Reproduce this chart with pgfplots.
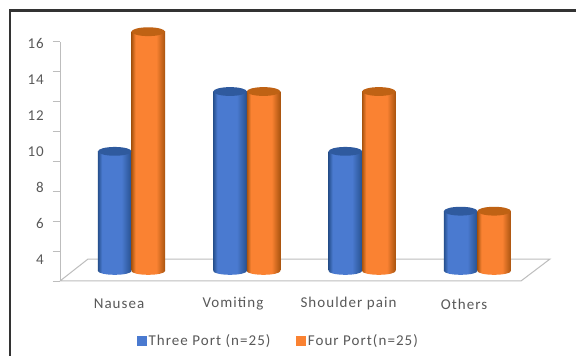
\documentclass[border=0pt]{standalone}
\usepackage{fontspec}
\usepackage{pgfplots}
\pgfplotsset{compat=1.18}
\setmainfont{Carlito}[LetterSpace=7]
\definecolor{blueMid}{HTML}{4A7AD0}
\definecolor{blueEdge}{HTML}{27518F}
\definecolor{blueLid}{HTML}{2F5A9E}
\definecolor{orangeMid}{HTML}{FA8232}
\definecolor{orangeEdge}{HTML}{A9540F}
\definecolor{orangeLid}{HTML}{BF6214}
\definecolor{txt}{HTML}{595959}
\definecolor{rule}{HTML}{BDBDBD}
\pgfdeclarehorizontalshading{cylblue}{100bp}{color(0bp)=(blueEdge); color(25bp)=(blueEdge); color(31bp)=(blueMid); color(60bp)=(blueMid); color(75bp)=(blueEdge); color(100bp)=(blueEdge)}
\pgfdeclarehorizontalshading{cylorange}{100bp}{color(0bp)=(orangeEdge); color(25bp)=(orangeEdge); color(31bp)=(orangeMid); color(62bp)=(orangeMid); color(75bp)=(orangeEdge); color(100bp)=(orangeEdge)}
% caps and rounded bases of a 33.5pt wide column
\pgfdeclareplotmark{lidblue}{\path[fill=blueLid,draw=none] (0pt,0pt) ellipse (16.75pt and 4.4pt);}
\pgfdeclareplotmark{lidorange}{\path[fill=orangeLid,draw=none] (0pt,0pt) ellipse (16.75pt and 4.4pt);}
\pgfdeclareplotmark{baseblue}{\path[shading=cylblue,draw=none] (0pt,0pt) ellipse (16.75pt and 3.8pt);}
\pgfdeclareplotmark{baseorange}{\path[shading=cylorange,draw=none] (0pt,0pt) ellipse (16.75pt and 3.8pt);}
% one cylinder: colour name, position, value
\newcommand{\cylinder}[3]{%
  \addplot[forget plot,only marks,mark=base#1] coordinates {(#2,0)};
  \addplot[forget plot,ybar,bar shift=0pt,bar width=33.5pt,draw=none,shading=cyl#1] coordinates {(#2,#3)};
  \addplot[forget plot,only marks,mark=lid#1] coordinates {(#2,#3)};
}
\begin{document}
\begin{tikzpicture}[x=1pt,y=1pt]
\useasboundingbox (0,0) rectangle (576,356);
\fill[white] (0,0) rectangle (576,356);
\draw[color=black!80,line width=2.4pt] (10.2,-3) -- (10.2,345.5) -- (580,345.5);
% floor, value ticks and category names
\begin{axis}[
  at={(60pt,75pt)},anchor=south west,scale only axis,width=490pt,height=239.3pt,
  xmin=-0.6201,xmax=3.6297,ymin=0,ymax=16,clip=false,
  axis x line*=bottom,axis y line*=left,
  x axis line style={draw=none},y axis line style={draw=rule,line width=0.8pt,-},
  ytick={0,2,...,16},yticklabels={},
  ytick style={draw=rule,line width=0.8pt},
  tick align=outside,major tick length=7pt,
  xtick={-0.108,0.880,1.882,2.884},
  xticklabels={Nausea,Vomiting,Shoulder pain,Others},
  x tick style={draw=none},
  xticklabel style={anchor=center,yshift=-16pt,text=txt,font=\fontsize{15}{15}\selectfont},
]
\addplot[draw=rule,line width=1pt,fill=white] coordinates {(-0.6201,0) (3.378,0) (3.6297,1.47) (-0.377,1.47) (-0.6201,0)};
\end{axis}
% value labels
\begin{axis}[
  at={(60pt,96.5pt)},anchor=south west,scale only axis,width=490pt,height=216pt,
  xmin=0,xmax=1,ymin=4,ymax=16,
  axis x line=none,axis y line*=left,y axis line style={draw=none},
  ytick={4,6,...,16},major tick length=0pt,ytick style={draw=none},
  yticklabel style={anchor=east,inner sep=0pt,xshift=-16pt,text=txt,font=\fontsize{15}{15}\selectfont},
  /pgf/number format/assume math mode=true,
]
\end{axis}
% cylindrical columns and legend
\begin{axis}[
  at={(60pt,85pt)},anchor=south west,scale only axis,width=490pt,height=239.3pt,
  xmin=-0.6201,xmax=3.6297,ymin=0,ymax=16,clip=false,hide axis,
  legend columns=2,
  legend style={draw=none,fill=none,at={(axis description cs:0.446,-0.2925)},anchor=center,
    font=\fontsize{15}{15}\selectfont,text=txt,/tikz/every even column/.append style={column sep=24pt}},
]
\addlegendimage{legend image code/.code={\fill[blueMid] (0pt,-4.5pt) rectangle (9pt,4.5pt);}}
\addlegendentry{Three Port (n=25)}
\addlegendimage{legend image code/.code={\fill[orangeMid] (0pt,-4.5pt) rectangle (9pt,4.5pt);}}
\addlegendentry{Four Port(n=25)}
\cylinder{blue}{-0.1453}{8}
\cylinder{orange}{0.1453}{16}
\cylinder{blue}{0.8547}{12}
\cylinder{orange}{1.1453}{12}
\cylinder{blue}{1.8547}{8}
\cylinder{orange}{2.1453}{12}
\cylinder{blue}{2.8547}{4}
\cylinder{orange}{3.1453}{4}
\end{axis}
\end{tikzpicture}
\end{document}
